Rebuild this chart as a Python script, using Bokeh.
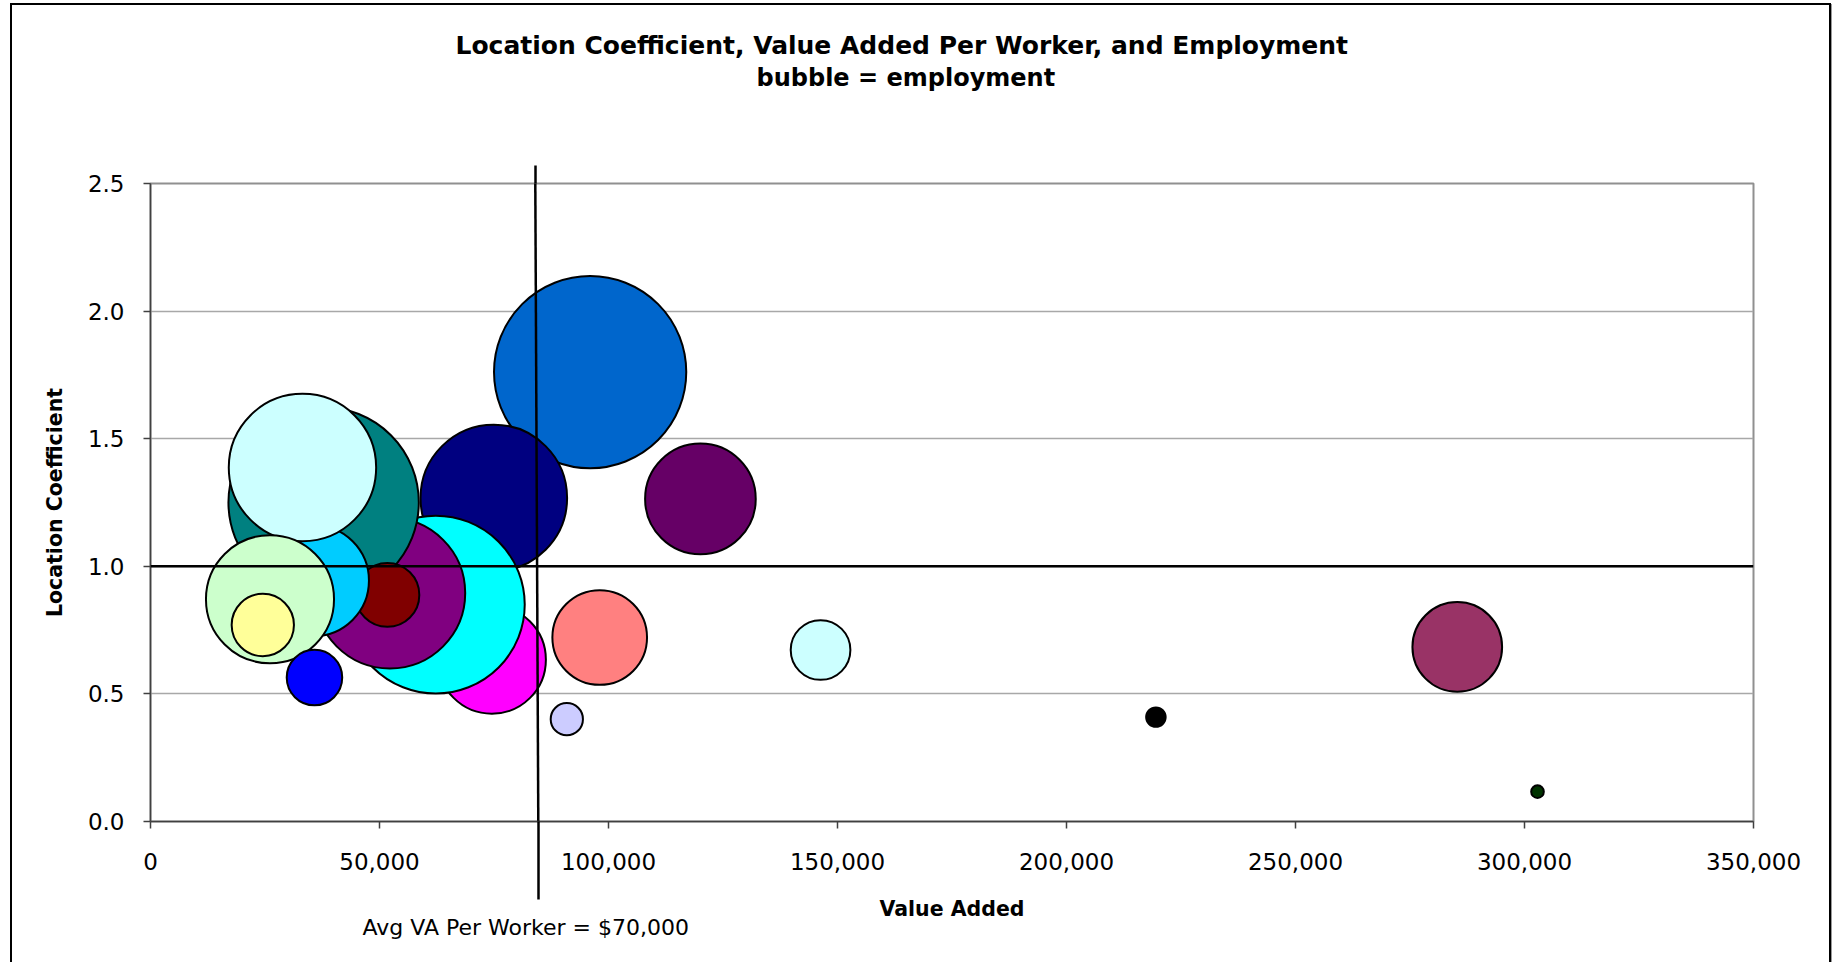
import numpy as np
from bokeh.plotting import figure, ColumnDataSource
from bokeh.models import (Span, Title, LinearAxis, NumeralTickFormatter, FixedTicker)
from bokeh.embed import file_html
from bokeh.resources import INLINE

# ---- data (bottom-to-top drawing order) ----
value_added = [95990, 74960, 74530, 62280, 52270, 37800, 51720, 35540, 33180,
               26090, 24520, 35800, 98080, 90900, 120070, 146300, 219520, 285320, 302840]
location_coef = [1.761, 1.268, 0.634, 0.850, 0.895, 1.250, 0.888, 0.944, 1.387,
                 0.871, 0.770, 0.564, 0.721, 0.401, 1.264, 0.672, 0.409, 0.684, 0.117]
employment = [9240, 5370, 2920, 7920, 5670, 9060, 1020, 3100, 5430,
              4100, 970, 770, 2240, 260, 3060, 890, 95, 2010, 40]
colors = ["#0066CC", "#000080", "#FF00FF", "#00FFFF", "#800080", "#008080", "#800000",
          "#00CCFF", "#CCFFFF", "#CCFFCC", "#FFFF99", "#0000FF", "#FF8080", "#CCCCFF",
          "#660066", "#CCFFFF", "#000000", "#993366", "#003300"]

x_ticks = [0, 50000, 100000, 150000, 200000, 250000, 300000, 350000]
y_ticks = [0.0, 0.5, 1.0, 1.5, 2.0, 2.5]
avg_lc = 1.0
# hand-drawn "average VA" line: x at top end / bottom end, y at top end / bottom end
avg_line_x = [84000, 84750]
avg_line_y = [2.573, -0.308]

title1 = "Location Coefficient, Value Added Per Worker, and Employment"
title2 = "bubble = employment"
avg_text = "Avg VA Per Worker = $70,000"

src = ColumnDataSource(dict(
    x=value_added, y=location_coef, emp=employment, color=colors,
    size=list(2 * np.sqrt(np.array(employment, dtype=float))),
))

p = figure(width=1835, height=962, output_backend="svg", toolbar_location=None,
           x_range=(0, 350000), y_range=(0, 2.5),
           min_border_left=150, min_border_right=82, min_border_top=183, min_border_bottom=141,
           background_fill_color="white", border_fill_color=None)
p.styles = {
    "background": ("linear-gradient(#000,#000) 10px 3px / 2px 959px no-repeat, "
                   "linear-gradient(#000,#000) 10px 3px / 1821px 2px no-repeat, "
                   "linear-gradient(#000,#000) 1829px 3px / 2px 959px no-repeat, "
                   "linear-gradient(#999,#999) 1831px 4px / 1px 958px no-repeat, white"),
}

p.outline_line_color = "#909090"
p.outline_line_width = 2

p.xgrid.visible = False
p.ygrid.grid_line_color = "#A8A8A8"
p.ygrid.grid_line_width = 1.5
p.ygrid.ticker = FixedTicker(ticks=y_ticks)

# where the hand-drawn line crosses the frame edges
slope = (avg_line_x[1] - avg_line_x[0]) / (avg_line_y[1] - avg_line_y[0])
x_at_top = avg_line_x[0] + slope * (2.5 - avg_line_y[0])
x_at_zero = avg_line_x[0] + slope * (0.0 - avg_line_y[0])

for ax in (p.xaxis[0], p.yaxis[0]):
    ax.axis_line_color = "#404040"
    ax.axis_line_width = 1.5
    ax.major_tick_line_color = "#404040"
    ax.major_tick_line_width = 1.5
    ax.major_tick_in = 0
    ax.major_tick_out = 7
    ax.minor_tick_line_color = None
    ax.major_label_text_font = "DejaVu Sans"
    ax.major_label_text_font_size = "23px"
    ax.major_label_text_color = "black"
    ax.axis_label_text_font = "DejaVu Sans"
    ax.axis_label_text_font_style = "bold"
    ax.axis_label_text_font_size = "20.5px"
    ax.axis_label_text_color = "black"

# bottom extension of the average line = one long minor tick of the x axis
p.xaxis.ticker = FixedTicker(ticks=x_ticks, minor_ticks=[x_at_zero])
p.xaxis.minor_tick_line_color = "black"
p.xaxis.minor_tick_line_width = 2.5
p.xaxis.minor_tick_in = 0
p.xaxis.minor_tick_out = 78
p.yaxis.ticker = FixedTicker(ticks=y_ticks)
p.yaxis.minor_tick_out = 0
p.xaxis.formatter = NumeralTickFormatter(format="0,0")
p.yaxis.formatter = NumeralTickFormatter(format="0.0")
p.xaxis.axis_label = "Value Added"
p.yaxis.axis_label = "Location Coefficient"
p.xaxis.major_label_standoff = 24 - (78 - 7)   # labels measured from the longest tick
p.yaxis.major_label_standoff = 19
p.xaxis.axis_label_standoff = 24
p.yaxis.axis_label_standoff = 18

# top extension of the average line (tick of an unlabeled top axis)
top_ax = LinearAxis(ticker=FixedTicker(ticks=[], minor_ticks=[x_at_top]),
                    axis_line_color=None, major_tick_line_color=None,
                    major_tick_out=0, major_tick_in=0, major_label_standoff=0,
                    minor_tick_line_color="black", minor_tick_line_width=2.5,
                    minor_tick_in=0, minor_tick_out=18,
                    axis_label=".", axis_label_text_alpha=0,
                    axis_label_text_font_size="10px", axis_label_standoff=61)
p.add_layout(top_ax, "above")

p.scatter("x", "y", size="size", source=src, marker="circle",
          fill_color="color", line_color="black", line_width=2)

p.segment(x0=[avg_line_x[0]], y0=[avg_line_y[0]], x1=[avg_line_x[1]], y1=[avg_line_y[1]],
          line_color="black", line_width=2.5)
p.add_layout(Span(location=avg_lc, dimension="width", line_color="black", line_width=2.5))

p.add_layout(Title(text=title2, align="left", offset=606, standoff=4,
                   text_font="DejaVu Sans", text_font_style="bold", text_font_size="24px",
                   text_color="black"), "above")
p.add_layout(Title(text=title1, align="left", offset=305, standoff=0,
                   text_font="DejaVu Sans", text_font_style="bold", text_font_size="25px",
                   text_color="black"), "above")
p.add_layout(Title(text=avg_text, align="left", offset=212, standoff=-18, vertical_align="top",
                   text_font="DejaVu Sans", text_font_style="normal", text_font_size="22px",
                   text_color="black"), "below")

open("out.html", "w").write(file_html(p, INLINE))
